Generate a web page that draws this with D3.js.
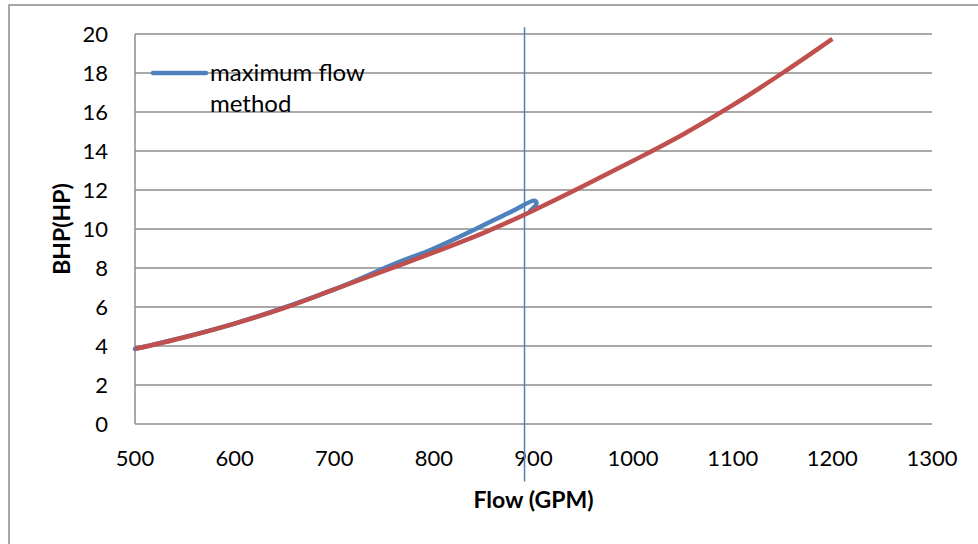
<!DOCTYPE html>
<html>
<head>
<meta charset="utf-8">
<script src="https://cdn.jsdelivr.net/npm/d3@7"></script>
<style>
  body { margin: 0; background: #fff; }
  svg { display: block; font-family: Lato, "Open Sans", sans-serif; }
</style>
</head>
<body>
<svg></svg>
<script>
const size = {w: 978, h: 544};
const margin = {t: 34, r: 46, b: 120, l: 135};

// red curve (no legend entry)
const redFlow = [500, 550, 600, 650, 700, 750, 800, 850, 900, 950, 1000, 1050, 1100, 1150, 1200];
const redBhp  = [3.85, 4.45, 5.15, 5.95, 6.9, 7.85, 8.8, 9.8, 10.95, 12.2, 13.5, 14.85, 16.35, 18.0, 19.75];

// maximum flow method (blue), hooks back at the end
const blueFlow = [500, 600, 700, 760, 800, 840, 880, 901, 903, 897];
const blueBhp  = [3.85, 5.15, 6.9, 8.2, 9.0, 9.95, 10.95, 11.45, 11.3, 10.95];

// vertical marker line
const markFlow = [891, 891];
const markBhp  = [20.35, -2.95];

const xTicks = [500, 600, 700, 800, 900, 1000, 1100, 1200, 1300];
const yTicks = [0, 2, 4, 6, 8, 10, 12, 14, 16, 18, 20];

const svg = d3.select('svg').attr('width', size.w).attr('height', size.h);

// outer chart border
svg.append('rect')
    .attr('x', 9).attr('y', 5)
    .attr('width', size.w).attr('height', size.h)
    .attr('fill', 'none').attr('stroke', '#898989').attr('stroke-width', 1.5);

const x = d3.scaleLinear().domain([500, 1300]).range([margin.l, size.w - margin.r]);
const y = d3.scaleLinear().domain([0, 20]).range([size.h - margin.b, margin.t]);

// gridlines
svg.append('g').selectAll('line')
    .data(yTicks)
    .join('line')
    .attr('x1', x(500)).attr('x2', x(1300))
    .attr('y1', d => y(d)).attr('y2', d => y(d))
    .attr('stroke', '#8c8c8c').attr('stroke-width', 1.5);

// left axis line
svg.append('line')
    .attr('x1', x(500)).attr('x2', x(500))
    .attr('y1', y(0)).attr('y2', y(20))
    .attr('stroke', '#8c8c8c').attr('stroke-width', 1.5);

// tick labels
svg.append('g').selectAll('text')
    .data(yTicks)
    .join('text')
    .attr('x', x(500) - 27)
    .attr('y', d => y(d))
    .attr('dy', '0.36em')
    .attr('text-anchor', 'end')
    .attr('font-size', 22)
    .text(d => d);

svg.append('g').selectAll('text')
    .data(xTicks)
    .join('text')
    .attr('x', d => x(d))
    .attr('y', y(0) + 42)
    .attr('text-anchor', 'middle')
    .attr('font-size', 22)
    .text(d => d);

// axis titles
svg.append('text')
    .attr('x', x(900)).attr('y', y(0) + 84)
    .attr('text-anchor', 'middle')
    .attr('font-size', 23).attr('font-weight', 'bold')
    .text('Flow (GPM)');

svg.append('text')
    .attr('transform', `translate(70, ${y(10)}) rotate(-90)`)
    .attr('text-anchor', 'middle')
    .attr('font-size', 23).attr('font-weight', 'bold')
    .text('BHP(HP)');

const line = d3.line()
    .x(d => x(d[0]))
    .y(d => y(d[1]))
    .curve(d3.curveCatmullRom);

// vertical marker
svg.append('path')
    .datum(d3.zip(markFlow, markBhp))
    .attr('d', d3.line().x(d => x(d[0])).y(d => y(d[1])))
    .attr('stroke', '#4f81bd').attr('stroke-width', 1.5).attr('fill', 'none');

svg.append('path')
    .datum(d3.zip(blueFlow, blueBhp))
    .attr('d', line)
    .attr('stroke', '#4f81bd').attr('stroke-width', 4.5)
    .attr('stroke-linecap', 'round').attr('stroke-linejoin', 'round')
    .attr('fill', 'none');

svg.append('path')
    .datum(d3.zip(redFlow, redBhp))
    .attr('d', line)
    .attr('stroke', '#c0504d').attr('stroke-width', 4.5)
    .attr('fill', 'none');

// legend
const legG = svg.append('g');
legG.append('line')
    .attr('x1', 153).attr('x2', 206)
    .attr('y1', y(18)).attr('y2', y(18))
    .attr('stroke', '#4f81bd').attr('stroke-width', 4.5)
    .attr('stroke-linecap', 'round');
legG.append('text')
    .attr('x', 210).attr('y', y(18) + 8)
    .attr('font-size', 24)
    .text('maximum flow');
legG.append('text')
    .attr('x', 210).attr('y', y(18) + 39)
    .attr('font-size', 24)
    .text('method');
</script>
</body>
</html>
